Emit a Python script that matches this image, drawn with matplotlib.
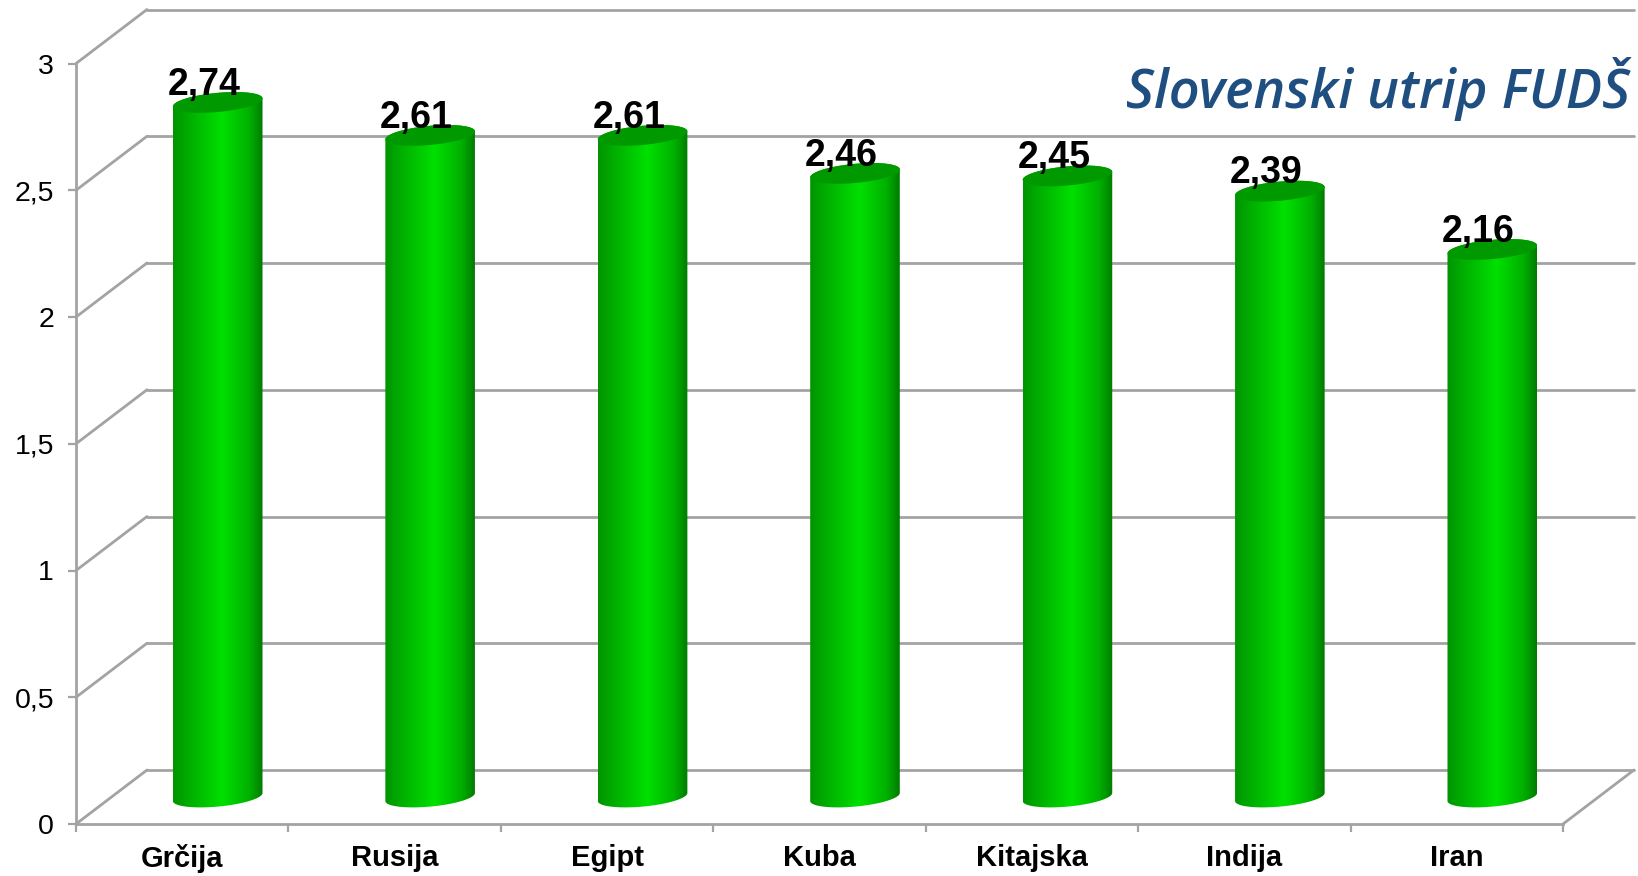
import numpy as np
import matplotlib
matplotlib.use("Agg")
import matplotlib.pyplot as plt
from matplotlib.colors import LinearSegmentedColormap
from matplotlib.path import Path
from matplotlib.patches import PathPatch

categories = ["Grčija", "Rusija", "Egipt", "Kuba", "Kitajska", "Indija", "Iran"]
values = [2.74, 2.61, 2.61, 2.46, 2.45, 2.39, 2.16]
value_labels = ["2,74", "2,61", "2,61", "2,46", "2,45", "2,39", "2,16"]
y_ticks = [0, 0.5, 1, 1.5, 2, 2.5, 3]
y_tick_labels = ["0", "0,5", "1", "1,5", "2", "2,5", "3"]
title_text = "Slovenski utrip FUDŠ"

W, H = 1638, 876
GREY = "#a3a3a3"
plt.rcParams["font.family"] = ["Liberation Sans", "DejaVu Sans"]
fig = plt.figure(figsize=(W / 100, H / 100), dpi=100, facecolor="white")
L, R, B, T = 76, 1563, 824, 63.5
ax = fig.add_axes([L / W, 1 - B / H, (R - L) / W, (B - T) / H])
ax.set_xlim(0, 7)
ax.set_ylim(0, 3)

# depth offset of the back wall, in data units
DX = 71 / ((R - L) / 7)
DY = 54 / ((B - T) / 3)

for s in ("top", "right"):
    ax.spines[s].set_visible(False)
for s in ("left", "bottom"):
    ax.spines[s].set_color(GREY)
    ax.spines[s].set_linewidth(2.0)

ax.set_yticks(y_ticks, y_tick_labels)
ax.set_xticks(range(8), [""] * 8)
ax.set_xticks(np.arange(7) + 0.5, categories, minor=True)
ax.tick_params(axis="y", length=5.8, width=1.6, color=GREY, labelsize=20.5, pad=10)
ax.tick_params(axis="x", which="major", length=5.8, width=1.6, color=GREY)
ax.tick_params(axis="x", which="minor", length=0, labelsize=21, pad=14.5)
for t in ax.get_xticklabels(minor=True):
    t.set_fontweight("bold")

line = dict(color=GREY, lw=2.0, clip_on=False, zorder=1, solid_capstyle="round")
for yv in y_ticks:
    ax.plot([0, DX], [yv, yv + DY], **line)
    ax.plot([DX, 7 + DX], [yv + DY, yv + DY], **line)
ax.plot([7, 7 + DX], [0, DY], **line)

# cylinders
cmap = LinearSegmentedColormap.from_list(
    "cyl",
    [(0, "#009400"), (0.15, "#00aa00"), (0.55, "#00e000"), (0.85, "#00b000"), (1, "#007c00")],
)
grad = np.linspace(0, 1, 256).reshape(1, -1)
A = 44.8 / ((R - L) / 7)
S = 4.0 / ((B - T) / 3)
E = 9.6 / ((B - T) / 3)
BASE = DY / 2
t = np.linspace(0, 2 * np.pi, 121)
for i, v in enumerate(values):
    cx = i + 0.5 + DX / 2
    top = v + BASE
    low_t = np.linspace(np.pi, 2 * np.pi, 60)
    bx = cx + A * np.cos(low_t)
    by = BASE + S * np.cos(low_t) + E * np.sin(low_t)
    up_t = np.linspace(0, np.pi, 60)
    tx = cx + A * np.cos(up_t)
    ty = top + S * np.cos(up_t) + E * np.sin(up_t)
    body = np.column_stack([np.r_[bx, tx], np.r_[by, ty]])
    im = ax.imshow(grad, extent=[cx - A, cx + A, 0, top + 0.1], cmap=cmap, aspect="auto",
                   zorder=3, interpolation="bilinear")
    clip = PathPatch(Path(np.vstack([body, body[:1]])), transform=ax.transData, fc="none", ec="none")
    ax.add_patch(clip)
    im.set_clip_path(clip)
    ax.fill(cx + A * np.cos(t), top + S * np.cos(t) + E * np.sin(t), color="#009a00", lw=0, zorder=4)
    ax.text(i + 0.603, v + 0.137, value_labels[i], ha="center", va="baseline",
            fontsize=27, fontweight="bold", color="black", zorder=5)
ax.set_xlim(0, 7)
ax.set_ylim(0, 3)

fig.text(1630 / W, 1 - 108 / H, title_text, ha="right", va="baseline", color="#1f4e80",
         fontsize=39, family="Open Sans", style="italic", fontweight=600)

fig.savefig("out.png", dpi=100, facecolor="white")
